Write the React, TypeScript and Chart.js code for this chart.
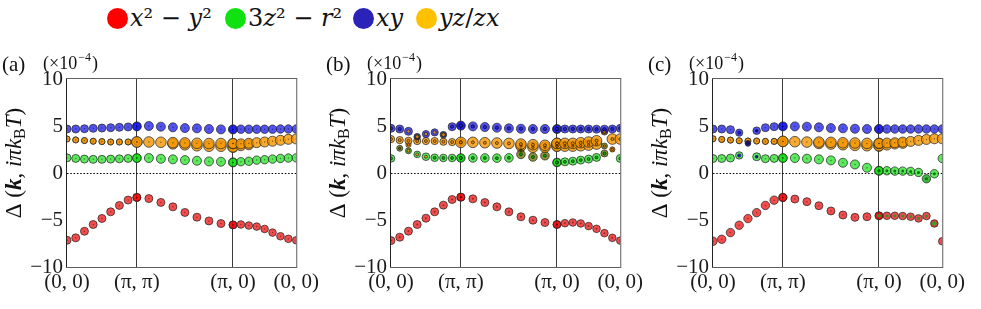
import React, { useEffect, useRef } from "react";
import { Chart, registerables } from "chart.js";
Chart.register(...registerables);

// ---------- axes / categories ----------
const kLabels = ["(0, 0)", "(π, π)", "(π, 0)", "(0, 0)"];
const kTickPos = [0, 1.104, 2.623, 3.623]; // path coordinate of high-symmetry points
const yTicks = [-10, -5, 0, 5, 10];
const SEG = 8; // k-points per path segment
const legendLabels = ["x² − y²", "3z² − r²", "xy", "yz/zx"];
const panelLetters = ["(a)", "(b)", "(c)"];

// ---------- panel (a) ----------
const aRed = [-7.16, -6.9, -6.2, -5.48, -4.84, -4.13, -3.45, -2.88, -2.6, -2.72, -3.13, -3.6, -4.2, -4.7, -5.1, -5.38, -5.52, -5.48, -5.59, -5.7, -5.95, -6.34, -6.73, -7.0, -7.16];
const aGreen = [1.61, 1.55, 1.48, 1.45, 1.45, 1.48, 1.51, 1.55, 1.59, 1.59, 1.51, 1.45, 1.37, 1.3, 1.23, 1.2, 1.13, 1.2, 1.25, 1.37, 1.41, 1.48, 1.55, 1.59, 1.61];
const aBlue = [4.68, 4.68, 4.71, 4.75, 4.78, 4.82, 4.86, 4.9, 4.96, 5.0, 4.93, 4.86, 4.78, 4.75, 4.68, 4.64, 4.64, 4.66, 4.66, 4.66, 4.66, 4.66, 4.68, 4.68, 4.68];
const aOrange1 = [3.62, 3.52, 3.45, 3.38, 3.34, 3.3, 3.3, 3.3, 3.3, 3.3, 3.27, 3.23, 3.2, 3.16, 3.13, 3.13, 3.13, 3.1, 3.16, 3.23, 3.3, 3.38, 3.48, 3.58, 3.62];
const aOrange2 = [3.62, 3.52, 3.45, 3.38, 3.34, 3.3, 3.3, 3.3, 3.3, null, null, 3.1, 3.0, 2.9, 2.85, 2.85, 2.75, 2.9, 3.0, null, null, null, null, null, null];

// ---------- panel (b) ----------
const bRed = [-7.19, -6.83, -6.19, -5.48, -4.81, -4.13, -3.42, -2.82, -2.57, -2.75, -3.14, -3.6, -4.13, -4.66, -5.02, -5.27, -5.48, -5.34, -5.27, -5.37, -5.65, -5.94, -6.4, -6.9, -7.19];
const bGreen = [1.55, null, 2.36, 1.98, 1.73, 1.62, 1.6, 1.6, 1.6, 1.6, 1.6, 1.58, 1.61, 1.98, 1.7, 1.84, 1.12, 1.19, 1.26, 1.37, 1.48, 1.66, 2.08, null, 1.55];
const bBlue = [4.75, 4.68, 4.43, 3.86, 4.14, 4.32, 4.07, 4.93, 5.04, 4.96, 4.89, 4.82, 4.75, 4.71, 4.68, 4.68, 4.68, 4.68, 4.68, 4.68, 4.68, 4.66, 4.66, 4.68, 4.75];
const bOrange1 = [3.61, 3.5, 3.43, 3.4, 3.4, 3.4, 3.33, 3.29, 3.26, 3.26, 3.22, 3.19, 3.15, 3.08, 3.01, 2.95, 3.15, 3.15, 3.15, 3.22, 3.29, 3.43, 4.39, 3.61, 3.61];
const bOrange2 = [null, null, 3.0, null, null, null, null, null, null, null, null, null, null, 2.88, 2.74, 2.74, 2.86, 2.86, 2.86, 2.9, 2.97, 3.08, 2.87, 2.51, null];
const bMixed = [null, 2.63, null, null, null, null, null, null, null, null, null, null, null, 2.43, null, null, null, null, null, null, null, null, null, null, null];

// ---------- panel (c) ----------
const cRed = [-7.26, -7.05, -6.34, -5.56, -4.85, -4.22, -3.45, -2.89, -2.6, -2.77, -3.05, -3.48, -4.04, -4.47, -4.72, -4.65, -4.55, -4.55, -4.55, -4.58, -4.65, -4.83, -4.58, -5.37, -7.26];
const cGreen = [1.54, 1.54, 1.59, 1.87, null, 1.73, 1.52, 1.55, 1.59, 1.59, 1.52, 1.45, 1.34, 1.09, 0.91, 0.56, 0.24, 0.24, 0.2, 0.2, 0.17, 0.06, -0.61, -0.08, 1.54];
const cBlue = [4.68, 4.68, 4.61, 4.29, 3.15, 4.5, 4.82, 4.93, 4.96, 4.96, 4.93, 4.86, 4.78, 4.75, 4.71, 4.68, 4.68, 4.68, 4.68, 4.68, 4.68, 4.68, 4.68, 4.68, 4.68];
const cOrange1 = [3.64, 3.57, 3.5, 3.43, 3.4, 3.4, 3.36, 3.36, 3.36, 3.33, 3.29, 3.29, 3.26, 3.22, 3.19, 3.15, 3.15, 3.19, 3.22, 3.29, 3.36, 3.47, 3.57, 3.64, 3.64];
const cOrange2 = [3.64, 3.57, 3.5, 3.43, 3.4, 3.4, 3.36, 3.36, 3.36, null, null, 3.15, 3.08, 3.01, 2.94, 2.9, 2.87, 2.97, 3.08, 3.15, null, null, null, null, null];

// ---------- styles ----------
const SERIF = "'Liberation Serif', 'Times New Roman', serif";
const C = {
  red: "rgba(240,0,0,0.7)",
  green: "rgba(0,220,0,0.64)",
  blue: "rgba(15,15,235,0.72)",
  orange: "rgba(245,150,0,0.8)",
  olive: "rgba(120,130,20,0.85)",
  navy: "rgba(10,10,110,0.9)",
  dot: "rgba(0,0,0,0.45)",
};
const EDGE = "rgba(40,40,40,0.75)";
const legendColors = ["#ff0000", "#11e011", "#2b22b8", "#ffc000"];
const legendLeft = [107, 225, 353, 416];
const canvasLeft = [0, 324, 646];
const CW = 322;
const CH = 269;

type Ov = { r?: number; fill?: string; inner?: number; innerFill?: string };
type S = {
  values: (number | null)[];
  fill: string;
  radius: number[];
  inner: number;
  innerFill: string;
  innerBorder?: string;
  innerBW?: number;
  ov?: Record<number, Ov>;
};

const range = (a: number, b: number, o: Ov) => {
  const r: Record<number, Ov> = {};
  for (let i = a; i <= b; i++) r[i] = o;
  return r;
};

const DOT = 0.75;
const panelA: S[] = [
  { values: aBlue, fill: C.blue, radius: [4, 4.5, 4.2], inner: DOT, innerFill: C.dot },
  { values: aOrange1, fill: C.orange, radius: [3, 5.3, 5], inner: DOT, innerFill: C.dot },
  { values: aOrange2, fill: C.orange, radius: [3, 5.3, 5], inner: 0, innerFill: C.dot },
  { values: aGreen, fill: C.green, radius: [4, 4.5, 4.2], inner: DOT, innerFill: C.dot },
  { values: aRed, fill: C.red, radius: [4, 4, 3.8], inner: DOT, innerFill: C.dot },
];

const bInner = { innerBorder: "rgba(0,0,0,0.7)", innerBW: 0.8 };
const panelB: S[] = [
  {
    values: bBlue, fill: C.blue, radius: [4, 4.5, 4], inner: 1.7, innerFill: "rgba(30,30,200,0.9)", ...bInner,
    ov: {
      2: { innerFill: C.orange },
      3: { r: 3.3, fill: "rgba(40,40,90,0.85)", inner: 1.8, innerFill: C.orange },
      4: { r: 3.6, innerFill: C.orange },
      5: { r: 3.6, innerFill: C.orange },
      6: { r: 3.3, fill: "rgba(40,40,90,0.85)", inner: 1.8, innerFill: C.orange },
    },
  },
  {
    values: bOrange1, fill: C.orange, radius: [3.6, 5.3, 5.3], inner: 1.5, innerFill: "rgba(230,130,0,0.9)", ...bInner,
    ov: { 22: { r: 3.3, fill: "rgba(140,80,20,0.9)" } },
  },
  {
    values: bOrange2, fill: C.orange, radius: [2.6, 5.3, 5.3], inner: 1.2, innerFill: "rgba(230,130,0,0.9)", ...bInner,
    ov: { 22: { r: 3, fill: C.olive }, 23: { r: 2.6, fill: "rgba(200,110,0,0.9)" } },
  },
  {
    values: bGreen, fill: C.green, radius: [3.8, 4.3, 4], inner: 1.5, innerFill: "rgba(0,170,0,0.9)", ...bInner,
    ov: {
      2: { r: 3, fill: "rgba(60,170,20,0.8)", innerFill: C.orange },
      3: { r: 3.3, innerFill: C.orange },
      4: { innerFill: C.orange },
      13: { fill: C.olive },
      14: { fill: C.olive },
      15: { fill: C.olive },
      22: { r: 3.5, fill: C.olive },
    },
  },
  { values: bRed, fill: C.red, radius: [4, 4, 3.8], inner: 1, innerFill: C.dot },
  { values: bMixed, fill: C.olive, radius: [3, 3, 3], inner: 1.2, innerFill: "rgba(90,100,0,0.9)", ...bInner },
];

const panelC: S[] = [
  {
    values: cBlue, fill: C.blue, radius: [4, 4.5, 4.2], inner: DOT, innerFill: C.dot,
    ov: {
      3: { r: 3.6, inner: 2, innerFill: "rgba(20,20,160,0.9)" },
      4: { r: 2.8, fill: C.navy, inner: 0 },
      5: { r: 3.8, inner: 1.8, innerFill: C.navy },
    },
  },
  { values: cOrange1, fill: C.orange, radius: [3, 5.3, 5], inner: DOT, innerFill: C.dot },
  { values: cOrange2, fill: C.orange, radius: [3, 5.3, 5], inner: 0, innerFill: C.dot },
  {
    values: cGreen, fill: C.green, radius: [4, 4.5, 4.2], inner: DOT, innerFill: C.dot,
    ov: {
      3: { r: 3.7, inner: 2, innerFill: "rgba(20,20,160,0.9)" },
      5: { inner: 1.8, innerFill: C.navy },
      ...range(16, 21, { inner: 1.5, innerFill: "rgba(0,110,0,0.9)" }),
      22: { fill: "rgba(30,170,30,0.85)", inner: 1.5, innerFill: "rgba(0,110,0,0.9)" },
      23: { inner: 1.5, innerFill: "rgba(0,110,0,0.9)" },
    },
  },
  {
    values: cRed, fill: C.red, radius: [4.2, 4, 3.8], inner: DOT, innerFill: C.dot,
    ov: {
      ...range(16, 22, { inner: 1.6, innerFill: "rgba(40,150,40,0.95)" }),
      23: { inner: 2.3, innerFill: "rgba(40,170,40,0.95)", fill: "rgba(220,0,0,0.8)" },
    },
  },
];

const PANELS = [panelA, panelB, panelC];

function buildDatasets(list: S[]) {
  const out: any[] = [];
  list.forEach((s, idx) => {
    const pts: { x: number; y: number }[] = [];
    const r: number[] = [], f: string[] = [], ir: number[] = [], iff: string[] = [];
    for (let seg = 0; seg < 3; seg++) {
      for (let j = 0; j <= SEG; j++) {
        const i = seg * SEG + j;
        const v = s.values[i];
        if (v === null || v === undefined) continue;
        const o: Ov = (s.ov && s.ov[i]) || {};
        pts.push({ x: kTickPos[seg] + (j / SEG) * (kTickPos[seg + 1] - kTickPos[seg]), y: v });
        r.push(o.r ?? s.radius[seg]);
        f.push(o.fill ?? s.fill);
        ir.push(o.inner ?? s.inner);
        iff.push(o.innerFill ?? s.innerFill);
      }
    }
    out.push({
      type: "scatter", data: pts, showLine: false, clip: 0, order: 20 + idx,
      pointRadius: r, pointBackgroundColor: f, pointBorderColor: EDGE, pointBorderWidth: 1,
    });
    out.push({
      type: "scatter", data: pts, showLine: false, clip: 0, order: idx,
      pointRadius: ir, pointBackgroundColor: iff,
      pointBorderColor: s.innerBorder ?? "rgba(0,0,0,0)", pointBorderWidth: s.innerBW ?? 0,
    });
  });
  return out;
}

function decorPlugin(letter: string) {
  return {
    id: "decor",
    beforeDatasetsDraw(chart: any) {
      const { ctx, chartArea: a, scales } = chart;
      const y0 = Math.round(scales.y.getPixelForValue(0)) + 0.5;
      ctx.save();
      ctx.strokeStyle = "#000";
      ctx.lineWidth = 1;
      ctx.setLineDash([1.5, 1.8]);
      ctx.beginPath();
      ctx.moveTo(a.left, y0);
      ctx.lineTo(a.right, y0);
      ctx.stroke();
      ctx.restore();
    },
    afterDraw(chart: any) {
      const { ctx, chartArea: a } = chart;
      ctx.save();
      // frame
      ctx.strokeStyle = "rgba(95,95,95,1)";
      ctx.lineWidth = 1;
      ctx.strokeRect(a.left - 0.5, a.top - 0.5, a.right - a.left + 1, a.bottom - a.top + 1);
      ctx.strokeStyle = "#222";
      ctx.beginPath();
      ctx.moveTo(a.left - 0.5, a.top);
      ctx.lineTo(a.left - 0.5, a.bottom);
      ctx.stroke();
      // panel letter and scale factor
      ctx.fillStyle = "#111";
      ctx.textBaseline = "alphabetic";
      ctx.textAlign = "left";
      ctx.font = `21px ${SERIF}`;
      ctx.fillText(letter, 2, 31);
      let x = 43;
      ctx.font = `18px ${SERIF}`;
      ctx.fillText("(×10", x, 29);
      x += ctx.measureText("(×10").width;
      ctx.font = `12px ${SERIF}`;
      ctx.fillText("−4", x + 1, 21);
      x += ctx.measureText("−4").width + 2;
      ctx.font = `18px ${SERIF}`;
      ctx.fillText(")", x, 29);
      // y-axis title
      const fs = 23;
      const parts: { t: string; f: string; dy?: number }[] = [
        { t: "Δ ", f: `${fs}px ${SERIF}` },
        { t: "(", f: `${fs}px ${SERIF}` },
        { t: "k", f: `italic bold ${fs}px ${SERIF}` },
        { t: ", ", f: `${fs}px ${SERIF}` },
        { t: "iπk", f: `italic ${fs}px ${SERIF}` },
        { t: "B", f: `${Math.round(fs * 0.7)}px ${SERIF}`, dy: 4 },
        { t: "T", f: `italic ${fs}px ${SERIF}` },
        { t: ")", f: `${fs}px ${SERIF}` },
      ];
      let total = 0;
      const widths = parts.map((p) => {
        ctx.font = p.f;
        const w = ctx.measureText(p.t).width;
        total += w;
        return w;
      });
      ctx.translate(21, (a.top + a.bottom) / 2 - 10 + 0 * total);
      ctx.rotate(-Math.PI / 2);
      let px = -total / 2;
      parts.forEach((p, i) => {
        ctx.font = p.f;
        ctx.fillText(p.t, px, p.dy ?? 0);
        px += widths[i];
      });
      ctx.restore();
    },
  };
}

function makeConfig(series: S[], k: number): any {
  const tickFont = { family: SERIF, size: 21 };
  return {
    type: "scatter",
    data: { datasets: buildDatasets(series) },
    options: {
      animation: false,
      responsive: false,
      events: [],
      layout: { padding: { left: 0, right: 23, top: 39, bottom: 0 } },
      plugins: { legend: { display: false }, tooltip: { enabled: false }, title: { display: false } },
      scales: {
        x: {
          type: "linear",
          min: kTickPos[0],
          max: kTickPos[kTickPos.length - 1],
          afterBuildTicks: (s: any) => {
            s.ticks = kTickPos.map((value) => ({ value }));
          },
          afterFit: (s: any) => {
            s.height = 42;
          },
          ticks: {
            callback: (_v: any, i: number) => kLabels[i],
            font: tickFont,
            color: "#1a1a1a",
            padding: 3,
            maxRotation: 0,
            autoSkip: false,
          },
          grid: {
            drawTicks: false,
            lineWidth: 1,
            color: (c: any) => (c.index === 0 || c.index === kTickPos.length - 1 ? "rgba(0,0,0,0)" : "#3a3a3a"),
          },
          border: { display: false },
        },
        y: {
          type: "linear",
          min: -10,
          max: 10,
          afterBuildTicks: (s: any) => {
            s.ticks = yTicks.map((value) => ({ value }));
          },
          afterFit: (s: any) => {
            s.width = 67;
          },
          ticks: {
            callback: (v: any) => String(v).replace("-", "−"),
            font: tickFont,
            color: "#1a1a1a",
            padding: 4,
          },
          grid: { display: false, drawTicks: false },
          border: { display: false },
        },
      },
    },
    plugins: [decorPlugin(panelLetters[k])],
  };
}

function LegendLabel({ text }: { text: string }) {
  return (
    <>
      {text.split("").map((ch, i) =>
        /[a-z]/.test(ch) ? <i key={i}>{ch}</i> : <span key={i}>{ch}</span>
      )}
    </>
  );
}

export default function App() {
  const r0 = useRef<HTMLCanvasElement>(null);
  const r1 = useRef<HTMLCanvasElement>(null);
  const r2 = useRef<HTMLCanvasElement>(null);
  const refs = [r0, r1, r2];
  useEffect(() => {
    const charts = PANELS.map((p, k) => new Chart(refs[k].current as HTMLCanvasElement, makeConfig(p, k)));
    return () => charts.forEach((c) => c.destroy());
  }, []);
  return (
    <div style={{ position: "absolute", left: 0, top: 0, width: 981, height: 309, background: "#fff", overflow: "hidden" }}>
      {legendLabels.map((lab, i) => (
        <React.Fragment key={i}>
          <div
            style={{
              position: "absolute", left: legendLeft[i], top: 8, width: 21, height: 21,
              borderRadius: "50%", background: legendColors[i],
            }}
          />
          <div
            style={{
              position: "absolute", left: legendLeft[i] + 23, top: 6, fontFamily: "'DejaVu Serif', serif",
              fontSize: 24, lineHeight: "24px", whiteSpace: "nowrap", color: "#111",
            }}
          >
            <LegendLabel text={lab} />
          </div>
        </React.Fragment>
      ))}
      {PANELS.map((_p, k) => (
        <canvas
          key={k}
          ref={refs[k]}
          width={CW}
          height={CH}
          style={{ position: "absolute", left: canvasLeft[k], top: 40, width: CW, height: CH }}
        />
      ))}
    </div>
  );
}
